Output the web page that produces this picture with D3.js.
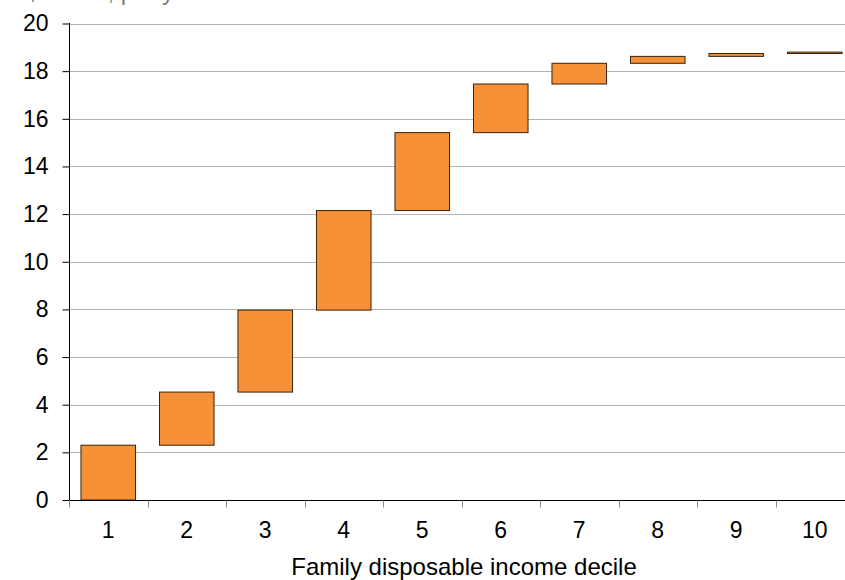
<!DOCTYPE html>
<html>
<head>
<meta charset="utf-8">
<script src="https://cdn.jsdelivr.net/npm/d3@7"></script>
<style>
  html, body { margin: 0; padding: 0; background: #fff; overflow: hidden; }
  svg { display: block; font-family: "Liberation Sans", Arial, sans-serif; }
</style>
</head>
<body>
<svg id="chart" width="845" height="580"></svg>
<script>
// Data
const deciles = ["1", "2", "3", "4", "5", "6", "7", "8", "9", "10"];
const barBottom = [0, 2.30, 4.53, 7.97, 12.15, 15.42, 17.46, 18.33, 18.62, 18.74];
const barTop    = [2.30, 4.53, 7.97, 12.15, 15.42, 17.46, 18.33, 18.62, 18.74, 18.80];
const yTicks = [0, 2, 4, 6, 8, 10, 12, 14, 16, 18, 20];
const yUnitLabel = "$ billion, per year";
const xTitle = "Family disposable income decile";

const svg = d3.select("#chart");
const mLeft = 69, mRight = 854, mTop = 23.5, mBottom = 500;

const x = d3.scaleBand().domain(deciles).range([mLeft, mRight]).paddingInner(0.305).paddingOuter(0.1525);
const y = d3.scaleLinear().domain([0, 20]).range([mBottom, mTop]);

// unit label (partly above the top edge, as in reference)
svg.append("text")
  .attr("x", 26).attr("y", 0)
  .attr("fill", "#7f7f7f")
  .attr("font-size", 24)
  .text(yUnitLabel);

// gridlines
svg.append("g").selectAll("line")
  .data(yTicks.filter(d => d > 0))
  .join("line")
  .attr("x1", mLeft).attr("x2", 845)
  .attr("y1", d => Math.round(y(d)) + 0.5).attr("y2", d => Math.round(y(d)) + 0.5)
  .attr("stroke", "#b3b3b3").attr("stroke-width", 1);

// bars
const idx = d3.range(deciles.length);
svg.append("g").selectAll("rect")
  .data(idx)
  .join("rect")
  .attr("x", i => x(deciles[i]))
  .attr("width", x.bandwidth())
  .attr("y", i => y(barTop[i]))
  .attr("height", i => Math.max(0.5, y(barBottom[i]) - y(barTop[i])))
  .attr("fill", "#F79138")
  .attr("stroke", "#3a2208")
  .attr("stroke-width", 1);

// y axis
const yAxis = d3.axisLeft(y).tickValues(yTicks).tickSize(7).tickPadding(14).tickFormat(d3.format("d"));
const gy = svg.append("g").attr("transform", `translate(${mLeft + 0.5},0)`).call(yAxis);
gy.select(".domain").attr("stroke", "#000").attr("d", `M0,${mTop - 0.5}V${mBottom}`);
gy.selectAll(".tick line").attr("stroke", "#000");
gy.selectAll(".tick text").attr("font-size", 23).attr("fill", "#000")
  .attr("font-family", '"Liberation Sans", Arial, sans-serif');

// x axis
const gx = svg.append("g").attr("transform", `translate(0,${mBottom + 0.5})`);
gx.append("line").attr("x1", mLeft).attr("x2", 845).attr("y1", 0).attr("y2", 0).attr("stroke", "#000");
const boundaries = deciles.map(d => x(d) - x.step() * x.paddingInner() / 2);
gx.selectAll("line.tk").data(boundaries).join("line").attr("class", "tk")
  .attr("x1", d => Math.round(d) + 0.5).attr("x2", d => Math.round(d) + 0.5)
  .attr("y1", 0).attr("y2", 7).attr("stroke", "#8c8c8c");
gx.selectAll("text").data(deciles).join("text")
  .attr("x", d => x(d) + x.bandwidth() / 2)
  .attr("y", 37)
  .attr("text-anchor", "middle")
  .attr("font-size", 23)
  .attr("fill", "#000")
  .text(d => d);

// x title
svg.append("text")
  .attr("x", 464).attr("y", 575)
  .attr("text-anchor", "middle")
  .attr("font-size", 24)
  .attr("fill", "#000")
  .text(xTitle);
</script>
</body>
</html>
